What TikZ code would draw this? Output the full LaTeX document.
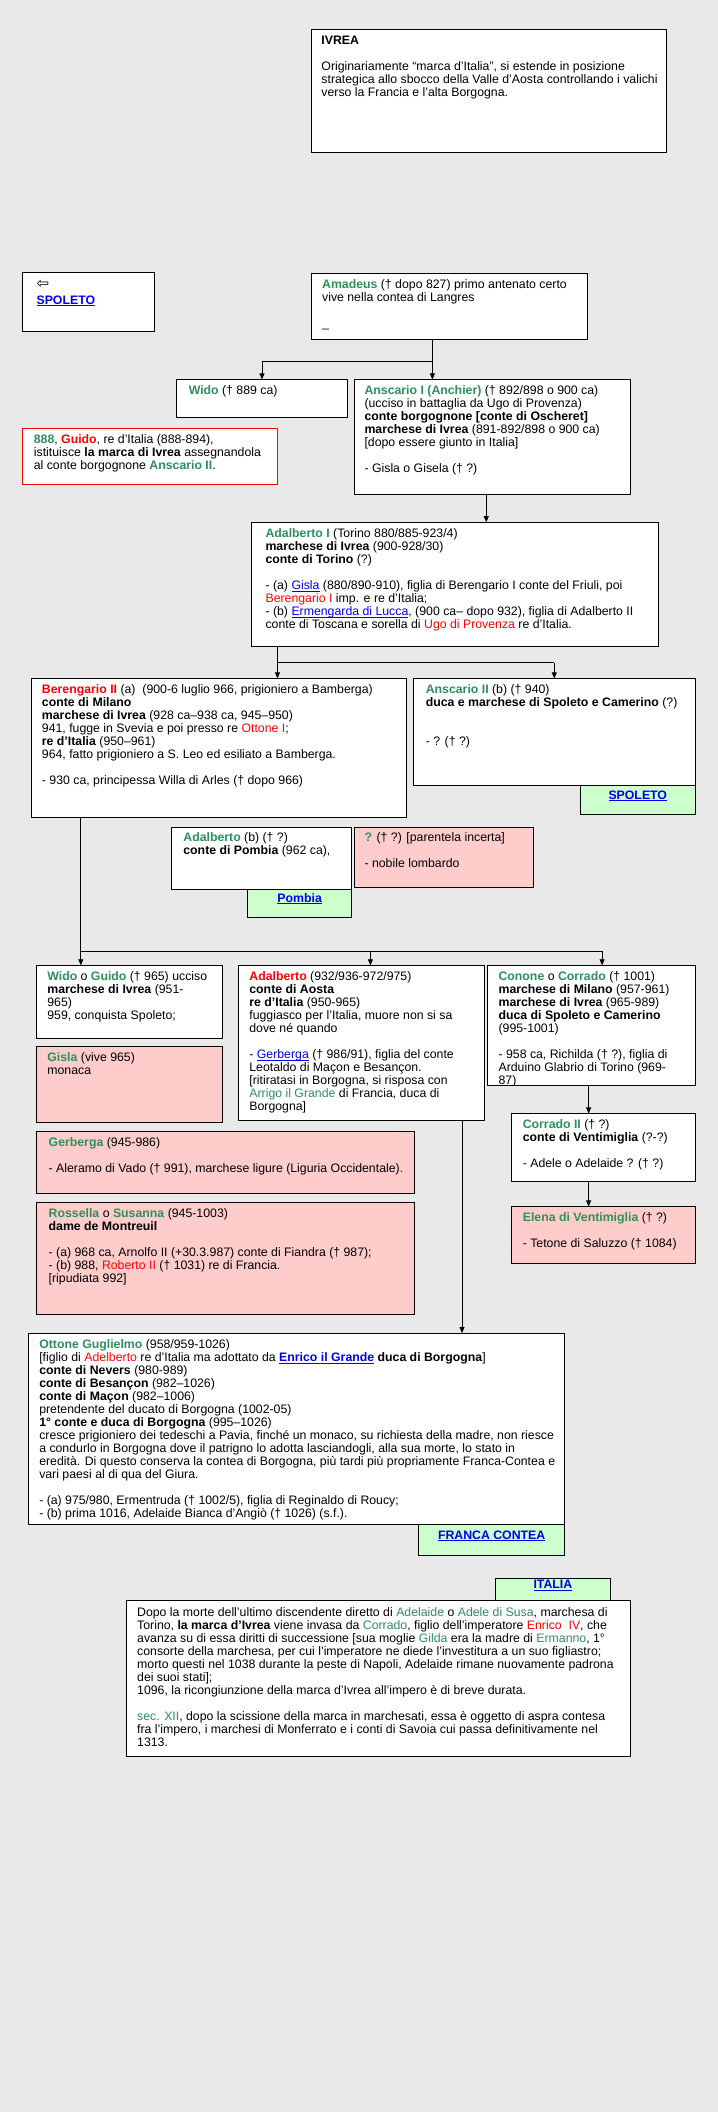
\documentclass[tikz,border=0pt]{standalone}
\usepackage{fontspec}
\setmainfont{Liberation Sans}
\newfontfamily\djv{DejaVu Sans}
\usetikzlibrary{fit,arrows.meta}
\definecolor{bgc}{HTML}{E9E9E9}
\definecolor{gname}{HTML}{2F8F5A}
\definecolor{rname}{HTML}{FF0000}
\definecolor{lnk}{HTML}{0000EE}
\definecolor{pinkf}{HTML}{FFCCCC}
\definecolor{greenf}{HTML}{CCFFCC}
\newcommand\gb[1]{\textcolor{gname}{\textbf{#1}}}
\newcommand\gn[1]{\textcolor{gname}{#1}}
\newcommand\rb[1]{\textcolor{rname}{\textbf{#1}}}
\newcommand\rd[1]{\textcolor{rname}{#1}}
\newcommand\myul[1]{\underline{\smash{#1}}}
\newcommand\lk[1]{\textcolor{lnk}{\myul{#1}}}
\newcommand\lkb[1]{\textcolor{lnk}{\textbf{\myul{#1}}}}
\newcommand\bx[6]{\node[boxst,#6,fit={(#2,#3)(#4,#5)}] (#1) {};}
\newcommand\tx[4]{\node[txt,anchor=base west] (#1) at (#2,#3) {\begin{tabular}[t]{@{}l@{}}#4\end{tabular}};}
\begin{document}
\begin{tikzpicture}[x=1.3471pt,y=-1.3471pt,
  boxst/.style={draw=black,fill=white,line width=0.9pt,inner sep=0pt},
  pbox/.style={fill=pinkf},
  gbox/.style={fill=greenf},
  rbox/.style={draw=red},
  txt/.style={inner sep=0pt,font=\fontsize{12.3}{13}\selectfont},
  ln/.style={line width=0.8pt},
  arr/.style={line width=0.8pt,-{Triangle[width=5pt,length=6pt]}}]
\useasboundingbox (0,0) rectangle (533,1568);
\fill[bgc] (0,0) rectangle (533,1568);

% IVREA
\bx{ivrea}{231}{22}{495}{113}{}
\tx{ivreat}{238.5}{33}{\textbf{IVREA}\\ \\
Originariamente “marca d'Italia”, si estende in posizione\\
strategica allo sbocco della Valle d'Aosta controllando i valichi\\
verso la Francia e l'alta Borgogna.}

% SPOLETO top-left
\bx{spol1}{17}{202}{115}{246}{}
\tx{spol1t}{27}{214}{{\djv\fontsize{15}{13}\selectfont ⇦}\\[3pt]\lkb{SPOLETO}}

% Amadeus
\bx{amad}{231}{203}{436}{252}{}
\tx{amadt}{239}{214}{\gb{Amadeus} († dopo 827) primo antenato certo\\
vive nella contea di Langres\\ \\ \_}

% Wido
\bx{wido1}{131}{282}{258}{310}{}
\tx{wido1t}{140}{293}{\gb{Wido} († 889 ca)}

% Anscario I
\bx{ans1}{263}{282}{468}{367}{}
\tx{ans1t}{270.5}{293}{\gb{Anscario I (Anchier)} († 892/898 o 900 ca)\\
(ucciso in battaglia da Ugo di Provenza)\\
\textbf{conte borgognone [conte di Oscheret]}\\
\textbf{marchese di Ivrea} (891-892/898 o 900 ca)\\
{}[dopo essere giunto in Italia]\\ \\
- Gisla o Gisela († ?)}

% 888
\bx{c888}{17}{318}{206}{360}{rbox}
\tx{c888t}{25}{329}{\gb{888}, \rb{Guido}, re d'Italia (888-894),\\
istituisce \textbf{la marca di Ivrea} assegnandola\\
al conte borgognone \gb{Anscario II}.}

% Adalberto I
\bx{adal1}{187}{388}{489}{480}{}
\tx{adal1t}{197}{399}{\gb{Adalberto I} (Torino 880/885-923/4)\\
\textbf{marchese di Ivrea} (900-928/30)\\
\textbf{conte di Torino} (?)\\ \\
- (a) \lk{Gisla} (880/890-910), figlia di Berengario I conte del Friuli, poi\\
\rd{Berengario I} imp. e re d'Italia;\\
- (b) \lk{Ermengarda di Lucca}, (900 ca– dopo 932), figlia di Adalberto II\\
conte di Toscana e sorella di \rd{Ugo di Provenza} re d'Italia.}

% Berengario II
\bx{beren}{23}{504}{302}{607}{}
\tx{berent}{31}{515}{\rb{Berengario II} (a)\ \ (900-6 luglio 966, prigioniero a Bamberga)\\
\textbf{conte di Milano}\\
\textbf{marchese di Ivrea} (928 ca–938 ca, 945–950)\\
941, fugge in Svevia e poi presso re \rd{Ottone I};\\
\textbf{re d'Italia} (950–961)\\
964, fatto prigioniero a S. Leo ed esiliato a Bamberga.\\ \\
- 930 ca, principessa Willa di Arles († dopo 966)}

% Anscario II
\bx{ans2}{307}{504}{516}{583}{}
\tx{ans2t}{316}{515}{\gb{Anscario II} (b) († 940)\\
\textbf{duca e marchese di Spoleto e Camerino} (?)\\ \\ \\
- ? († ?)}
\bx{spol2}{431}{583}{516}{605}{gbox}
\node[txt] (spol2t) at (spol2.center) {\lkb{SPOLETO}};

% Adalberto (b)
\bx{adalb}{127}{614}{261}{660}{}
\tx{adalbt}{136}{625}{\gb{Adalberto} (b) († ?)\\
\textbf{conte di Pombia} (962 ca),}
\bx{pombia}{184}{660}{261}{681}{gbox}
\node[txt] (pombiat) at (pombia.center) {\lkb{Pombia}};

% unknown
\bx{unk}{263}{614}{396}{659}{pbox}
\tx{unkt}{270.5}{625}{\gb{?} († ?) [parentela incerta]\\ \\
- nobile lombardo}

% Wido o Guido
\bx{widog}{27}{717}{165}{771}{}
\tx{widogt}{35}{728}{\gb{Wido} o \gb{Guido} († 965) ucciso\\
\textbf{marchese di Ivrea} (951-\\
965)\\
959, conquista Spoleto;}

% Gisla
\bx{gisla}{27}{777}{165}{833}{pbox}
\tx{gislat}{35}{788}{\gb{Gisla} (vive 965)\\ monaca}

% Adalberto 932
\bx{adal2}{177}{717}{360}{832}{}
\tx{adal2t}{185}{728}{\rb{Adalberto} (932/936-972/975)\\
\textbf{conte di Aosta}\\
\textbf{re d'Italia} (950-965)\\
fuggiasco per l'Italia, muore non si sa\\
dove né quando\\ \\
- \lk{Gerberga} († 986/91), figlia del conte\\
Leotaldo di Maçon e Besançon.\\
{}[ritiratasi in Borgogna, si risposa con\\
\gn{Arrigo il Grande} di Francia, duca di\\
Borgogna]}

% Conone o Corrado
\bx{conrad}{362}{717}{516}{806}{}
\begin{scope}
\clip (362,717) rectangle (516,806);
\tx{conradt}{370}{728}{\gb{Conone} o \gb{Corrado} († 1001)\\
\textbf{marchese di Milano} (957-961)\\
\textbf{marchese di Ivrea} (965-989)\\
\textbf{duca di Spoleto e Camerino}\\
(995-1001)\\ \\
- 958 ca, Richilda († ?), figlia di\\
Arduino Glabrio di Torino (969-\\
87)}
\end{scope}

% Corrado II
\bx{corr2}{380}{827}{516}{877}{}
\tx{corr2t}{388}{838}{\gb{Corrado II} († ?)\\
\textbf{conte di Ventimiglia} (?-?)\\ \\
- Adele o Adelaide ? († ?)}

% Elena
\bx{elena}{380}{896}{516}{938}{pbox}
\tx{elenat}{388}{907}{\gb{Elena di Ventimiglia} († ?)\\ \\
- Tetone di Saluzzo († 1084)}

% Gerberga
\bx{gerb}{27}{840}{308}{886}{pbox}
\tx{gerbt}{36}{851}{\gb{Gerberga} (945-986)\\ \\
- Aleramo di Vado († 991), marchese ligure (Liguria Occidentale).}

% Rossella
\bx{ross}{27}{893}{308}{976}{pbox}
\tx{rosst}{36}{904}{\gb{Rossella} o \gb{Susanna} (945-1003)\\
\textbf{dame de Montreuil}\\ \\
- (a) 968 ca, Arnolfo II (+30.3.987) conte di Fiandra († 987);\\
- (b) 988, \rd{Roberto II} († 1031) re di Francia.\\
{}[ripudiata 992]}

% Ottone Guglielmo
\bx{ottone}{21}{990}{419}{1132}{}
\tx{ottonet}{29}{1001}{\gb{Ottone Guglielmo} (958/959-1026)\\
{}[figlio di \rd{Adelberto} re d'Italia ma adottato da \textbf{\lk{Enrico il Grande} duca di Borgogna}]\\
\textbf{conte di Nevers} (980-989)\\
\textbf{conte di Besançon} (982–1026)\\
\textbf{conte di Maçon} (982–1006)\\
pretendente del ducato di Borgogna (1002-05)\\
\textbf{1° conte e duca di Borgogna} (995–1026)\\
cresce prigioniero dei tedeschi a Pavia, finché un monaco, su richiesta della madre, non riesce\\
a condurlo in Borgogna dove il patrigno lo adotta lasciandogli, alla sua morte, lo stato in\\
eredità. Di questo conserva la contea di Borgogna, più tardi più propriamente Franca-Contea e\\
vari paesi al di qua del Giura.\\ \\
- (a) 975/980, Ermentruda († 1002/5), figlia di Reginaldo di Roucy;\\
- (b) prima 1016, Adelaide Bianca d'Angiò († 1026) (s.f.).}
\bx{franca}{311}{1132}{419}{1155}{gbox}
\node[txt] (francat) at (franca.center) {\lkb{FRANCA CONTEA}};

% final
\bx{finalb}{94}{1188}{468}{1304}{}
\bx{italia}{368}{1172}{453}{1188}{gbox}
\node[txt] (italiat) at (italia.center) {\lkb{ITALIA}};
\tx{finalt}{101.7}{1200}{Dopo la morte dell'ultimo discendente diretto di \gn{Adelaide} o \gn{Adele di Susa}, marchesa di\\
Torino, \textbf{la marca d'Ivrea} viene invasa da \gn{Corrado}, figlio dell'imperatore \rd{Enrico\ \ IV}, che\\
avanza su di essa diritti di successione [sua moglie \gn{Gilda} era la madre di \gn{Ermanno}, 1°\\
consorte della marchesa, per cui l'imperatore ne diede l'investitura a un suo figliastro;\\
morto questi nel 1038 durante la peste di Napoli, Adelaide rimane nuovamente padrona\\
dei suoi stati];\\
1096, la ricongiunzione della marca d'Ivrea all'impero è di breve durata.\\ \\
\gn{sec. XII}, dopo la scissione della marca in marchesati, essa è oggetto di aspra contesa\\
fra l'impero, i marchesi di Monferrato e i conti di Savoia cui passa definitivamente nel\\
1313.}

% connectors
\coordinate (j1) at (321,268);
\draw[ln] (amad.south -| j1) -- (j1) -- (j1 -| wido1.north);
\draw[arr] (j1 -| wido1.north) -- (wido1.north);
\draw[arr] (j1) -- (ans1.north -| j1);
\coordinate (j2) at (361,375);
\draw[arr] (ans1.south -| j2) -- (adal1.north -| j2);
\coordinate (j3) at (206,492);
\draw[ln] (adal1.south -| j3) -- (j3) -- (j3 -| ans2.north);
\draw[arr] (j3) -- (beren.north -| j3);
\draw[arr] (j3 -| ans2.north) -- (ans2.north);
\coordinate (j4) at (60,706);
\coordinate (j4b) at (275,706);
\coordinate (j4c) at (447,706);
\draw[ln] (beren.south -| j4) -- (j4) -- (j4c);
\draw[arr] (j4) -- (widog.north -| j4);
\draw[arr] (j4b) -- (adal2.north -| j4b);
\draw[arr] (j4c) -- (conrad.north -| j4c);
\coordinate (j5) at (437,815);
\draw[arr] (conrad.south -| j5) -- (corr2.north -| j5);
\draw[arr] (corr2.south -| j5) -- (elena.north -| j5);
\coordinate (j6) at (343,900);
\draw[arr] (adal2.south -| j6) -- (ottone.north -| j6);
\end{tikzpicture}
\end{document}
